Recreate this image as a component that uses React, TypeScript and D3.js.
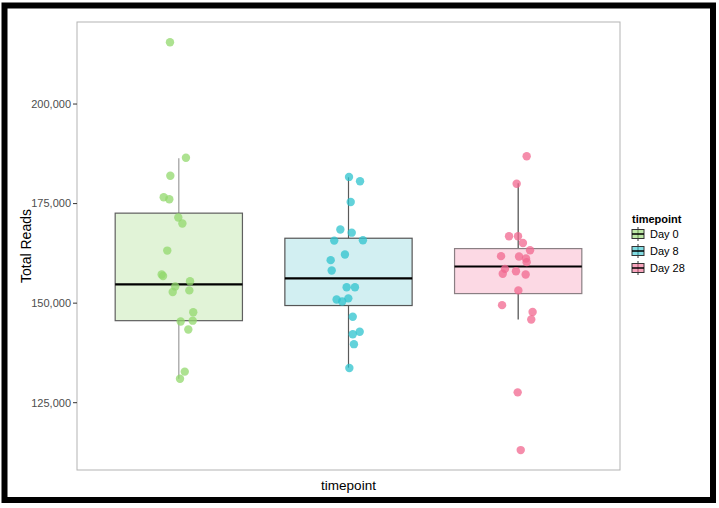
import React from "react";
import * as d3 from "d3";

// categories and values
const timepoints = ["Day 0", "Day 8", "Day 28"];

const day0Reads = [215500, 186500, 182000, 176600, 176100, 171500, 170000, 163200, 157200, 156800,
  155500, 154200, 152800, 153200, 147700, 145600, 145400, 143400, 132800, 131000];
const day0Jitter = [-0.052, 0.042, -0.05, -0.089, -0.056, -0.003, 0.021, -0.068, -0.101, -0.093,
  0.066, -0.021, -0.036, 0.062, 0.085, 0.082, 0.011, 0.056, 0.035, 0.007];

const day8Reads = [181700, 180600, 175400, 168500, 167700, 165700, 165800, 162200, 160800, 158200,
  154000, 154000, 150900, 150400, 151200, 146600, 142800, 142200, 139700, 133700];
const day8Jitter = [0.003, 0.068, 0.013, -0.048, 0.019, -0.084, 0.085, -0.021, -0.105, -0.099,
  -0.011, 0.038, -0.07, -0.037, -0.001, 0.025, 0.066, 0.025, 0.032, 0.005];

const day28Reads = [186900, 180000, 166800, 166800, 165100, 163300, 161800, 161700, 161200, 160300,
  158600, 157400, 158000, 157200, 153200, 149500, 147800, 145900, 127600, 113100];
const day28Jitter = [0.05, -0.009, -0.054, -0.001, 0.028, 0.07, -0.101, 0.005, 0.046, 0.05,
  -0.078, -0.091, -0.013, 0.044, 0.001, -0.095, 0.085, 0.077, -0.003, 0.015];

// box statistics as drawn
const boxQ1 = [145600, 149400, 152400];
const boxMedian = [154700, 156200, 159200];
const boxQ3 = [172600, 166300, 163700];
const whiskerLow = [131000, 133800, 145900];
const whiskerHigh = [186400, 181600, 180100];

const yTicks = [125000, 150000, 175000, 200000];

const pointColors = ["#92d86c", "#2ec3cd", "#f2678f"];
const boxFills = ["#e1f3d7", "#d2eff2", "#fcd9e4"];
const boxStrokes = ["#5f5f5f", "#555555", "#8a7f83"];
const whiskerStrokes = ["#9c9c9c", "#5a5a5a", "#4a4a4a"];

const FONT = "'Liberation Sans', Arial, Helvetica, sans-serif";

export default function App() {
  const W = 719, H = 508;
  const left = 77, right = 620, top = 22, bottom = 470;

  const x = d3.scaleLinear().domain([0.4, 3.6]).range([left, right]);
  const y = d3.scaleLinear().domain([108100, 220600]).range([bottom, top]);
  const fmt = d3.format(",");
  const boxHalf = (x(1.375) - x(1)) ;

  const groups = [
    { reads: day0Reads, jitter: day0Jitter },
    { reads: day8Reads, jitter: day8Jitter },
    { reads: day28Reads, jitter: day28Jitter },
  ];

  return (
    <svg width={W} height={H} style={{ position: "absolute", left: 0, top: 0, fontFamily: FONT }}>
      <rect x={0} y={0} width={W} height={H} fill="#fff" />
      <rect x={4.5} y={5.5} width={708.5} height={494.5} fill="none" stroke="#000" strokeWidth={6} />

      <rect x={left} y={top} width={right - left} height={bottom - top} fill="#fff" stroke="#b3b3b3" strokeWidth={1} />

      {/* boxes */}
      {timepoints.map((t, i) => {
        const cx = x(i + 1);
        return (
          <g key={t}>
            <line x1={cx} x2={cx} y1={y(whiskerHigh[i])} y2={y(boxQ3[i])} stroke={whiskerStrokes[i]} strokeWidth={1.2} />
            <line x1={cx} x2={cx} y1={y(boxQ1[i])} y2={y(whiskerLow[i])} stroke={whiskerStrokes[i]} strokeWidth={1.2} />
            <rect x={cx - boxHalf} y={y(boxQ3[i])} width={boxHalf * 2} height={y(boxQ1[i]) - y(boxQ3[i])}
              fill={boxFills[i]} stroke={boxStrokes[i]} strokeWidth={1.2} />
            <line x1={cx - boxHalf} x2={cx + boxHalf} y1={y(boxMedian[i])} y2={y(boxMedian[i])} stroke="#000" strokeWidth={2.2} />
          </g>
        );
      })}

      {/* jittered points */}
      {groups.map((g, i) =>
        g.reads.map((v, j) => (
          <circle key={`${i}-${j}`} cx={x(i + 1 + g.jitter[j])} cy={y(v)} r={4.2}
            fill={pointColors[i]} fillOpacity={0.75} />
        ))
      )}

      {/* y axis */}
      {yTicks.map((t) => (
        <g key={t}>
          <line x1={left - 4} x2={left} y1={y(t)} y2={y(t)} stroke="#333" strokeWidth={1} />
          <text x={left - 6} y={y(t)} dy="0.35em" textAnchor="end" fontSize={11} fill="#4d4d4d">{fmt(t)}</text>
        </g>
      ))}
      <text transform={`translate(31,${(top + bottom) / 2}) rotate(-90)`} textAnchor="middle" fontSize={14} fill="#000">Total Reads</text>
      <text x={(left + right) / 2} y={490} textAnchor="middle" fontSize={13.5} fill="#000">timepoint</text>

      {/* legend */}
      <text x={632} y={223} fontSize={11} fontWeight="bold" fill="#000">timepoint</text>
      {timepoints.map((t, i) => {
        const ky = 234 + i * 17;
        const kx = 632, kw = 12;
        return (
          <g key={`leg-${t}`}>
            <line x1={kx + kw / 2} x2={kx + kw / 2} y1={ky - 7} y2={ky + 7} stroke="#333" strokeWidth={1} />
            <rect x={kx} y={ky - 4.5} width={kw} height={9} fill={pointColors[i]} fillOpacity={0.6} stroke="#333" strokeWidth={1} />
            <line x1={kx} x2={kx + kw} y1={ky} y2={ky} stroke="#000" strokeWidth={1.5} />
            <text x={650} y={ky} dy="0.35em" fontSize={11} fill="#000">{t}</text>
          </g>
        );
      })}
    </svg>
  );
}
